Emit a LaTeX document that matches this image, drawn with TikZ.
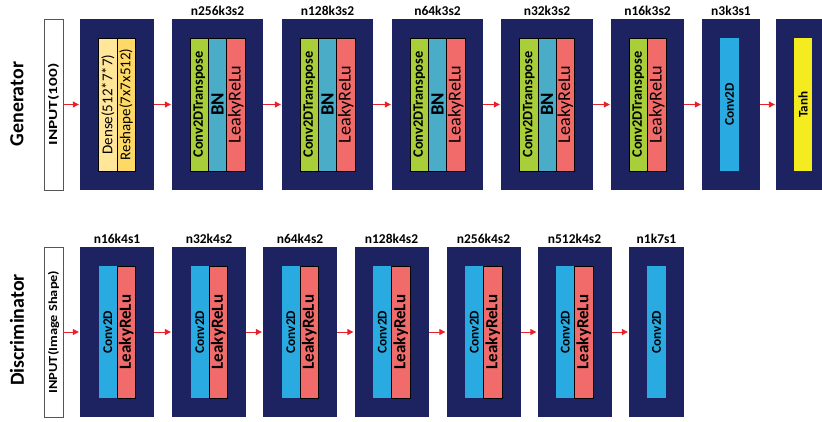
\documentclass[tikz,border=0pt]{standalone}
\usepackage{fontspec}
\setmainfont{Carlito}
\usetikzlibrary{arrows.meta,positioning}
\definecolor{GanNavy}{HTML}{1D2260}
\definecolor{GanGray}{HTML}{555555}
\definecolor{GanRed}{HTML}{E8202A}
\definecolor{GanDense}{HTML}{FFE699}
\definecolor{GanReshape}{HTML}{FFD966}
\definecolor{GanConvT}{HTML}{A8CF3A}
\definecolor{GanBN}{HTML}{4AACC6}
\definecolor{GanRelu}{HTML}{F26B6B}
\definecolor{GanConv}{HTML}{29ABE2}
\definecolor{GanTanh}{HTML}{F4EC1E}
\newcommand{\vlabel}[1]{\rotatebox{90}{#1}}
\tikzset{
    % Outer layer block
    blocknode/.style={
        fill=GanNavy,
        draw=none,
        minimum width=2.22cm,
        minimum height=5.13cm,
        inner sep=0pt,
        outer sep=0pt
    },
    % Input bar
    inputnode/.style={
        draw=GanGray,
        fill=white,
        line width=0.6pt,
        minimum width=0.57cm,
        minimum height=5.13cm,
        inner sep=0pt,
        outer sep=0pt,
        font=\bfseries\fontsize{10.5}{12}\selectfont
    },
    % Base strip inside a block
    stripnode/.style={
        draw=black,
        line width=0.4pt,
        minimum width=0.55cm,
        minimum height=3.99cm,
        inner sep=0pt,
        outer sep=0pt,
        text=black
    },
    densenode/.style={stripnode, fill=GanDense, font=\fontsize{12.8}{13}\selectfont},
    reshapenode/.style={stripnode, fill=GanReshape, font=\fontsize{12.8}{13}\selectfont},
    convtnode/.style={stripnode, fill=GanConvT, font=\bfseries\fontsize{12.3}{12}\selectfont},
    bnnode/.style={stripnode, fill=GanBN, font=\bfseries\fontsize{16}{16}\selectfont},
    relunode/.style={stripnode, fill=GanRelu, font=\fontsize{15.5}{16}\selectfont},
    convnode/.style={stripnode, draw=none, fill=GanConv, font=\bfseries\fontsize{11.4}{12}\selectfont},
    tanhnode/.style={stripnode, draw=none, fill=GanTanh, font=\bfseries\fontsize{11.2}{12}\selectfont},
    % Layer name above a block
    layerlabel/.style={
        inner sep=0pt,
        font=\bfseries\fontsize{11.5}{12}\selectfont
    },
    % Row title
    sidelabel/.style={
        rotate=90,
        inner sep=0pt,
        font=\bfseries\fontsize{17}{18}\selectfont
    },
    % Flow arrow
    flowarrow/.style={
        -{Triangle[length=5pt,width=5pt]},
        line width=0.8pt,
        draw=GanRed,
        shorten >=1pt
    }
}
\begin{document}
\begin{tikzpicture}[x=0.03cm, y=-0.03cm]
    \fill[white] (0,0) rectangle (822,421);
    \useasboundingbox (0,0) rectangle (822,421);

    % Generator
    \node[sidelabel] (gtitle) at (17,104) {Generator};
    \node[inputnode] (gin) at (53.5,104.5) {\vlabel{\scalebox{1.4}[1]{INPUT(100)}}};

    \node[blocknode] (g1) at (117,104.5) {};
    \node[densenode, anchor=east] (g1a) at (g1.center) {\vlabel{Dense(512*7*7)}};
    \node[reshapenode, right=0pt of g1a] (g1b) {\vlabel{Reshape(7x7x512)}};

    \node[blocknode, minimum width=2.73cm] (g2) at (217.5,104.5) {};
    \node[bnnode] (g2b) at (g2.center) {\vlabel{BN}};
    \node[convtnode, left=0pt of g2b] (g2a) {\vlabel{Conv2DTranspose}};
    \node[relunode, right=0pt of g2b] (g2c) {\vlabel{LeakyReLu}};
    \node[layerlabel, above=2.5pt of g2] {n256k3s2};

    \node[blocknode, minimum width=2.73cm] (g3) at (327.5,104.5) {};
    \node[bnnode] (g3b) at (g3.center) {\vlabel{BN}};
    \node[convtnode, left=0pt of g3b] (g3a) {\vlabel{Conv2DTranspose}};
    \node[relunode, right=0pt of g3b] (g3c) {\vlabel{LeakyReLu}};
    \node[layerlabel, above=2.5pt of g3] {n128k3s2};

    \node[blocknode, minimum width=2.73cm] (g4) at (437.5,104.5) {};
    \node[bnnode] (g4b) at (g4.center) {\vlabel{BN}};
    \node[convtnode, left=0pt of g4b] (g4a) {\vlabel{Conv2DTranspose}};
    \node[relunode, right=0pt of g4b] (g4c) {\vlabel{LeakyReLu}};
    \node[layerlabel, above=2.5pt of g4] {n64k3s2};

    \node[blocknode, minimum width=2.76cm] (g5) at (547,104.5) {};
    \node[bnnode] (g5b) at (g5.center) {\vlabel{BN}};
    \node[convtnode, left=0pt of g5b] (g5a) {\vlabel{Conv2DTranspose}};
    \node[relunode, right=0pt of g5b] (g5c) {\vlabel{LeakyReLu}};
    \node[layerlabel, above=2.5pt of g5] {n32k3s2};

    \node[blocknode, minimum width=2.19cm] (g6) at (647.5,104.5) {};
    \node[convtnode, anchor=east] (g6a) at (g6.center) {\vlabel{Conv2DTranspose}};
    \node[relunode, right=0pt of g6a] (g6b) {\vlabel{LeakyReLu}};
    \node[layerlabel, above=2.5pt of g6] {n16k3s2};

    \node[blocknode, minimum width=1.74cm] (g7) at (731,104.5) {};
    \node[convnode, minimum width=0.57cm] (g7a) at (729.5,104.5) {\vlabel{Conv2D}};
    \node[layerlabel, above=2.5pt of g7] {n3k3s1};

    \node[blocknode, minimum width=1.38cm] (g8) at (799,104.5) {};
    \node[tanhnode] (g8a) at (803,104.5) {\vlabel{Tanh}};

    \draw[flowarrow] (gin) -- (g1);
    \draw[flowarrow] (g1) -- (g2);
    \draw[flowarrow] (g2) -- (g3);
    \draw[flowarrow] (g3) -- (g4);
    \draw[flowarrow] (g4) -- (g5);
    \draw[flowarrow] (g5) -- (g6);
    \draw[flowarrow] (g6) -- (g7);
    \draw[flowarrow] (g7) -- (g8);

    % Discriminator
    \node[sidelabel] (dtitle) at (17,330) {Discriminator};
    \node[inputnode, minimum height=5.1cm] (din) at (53.5,332) {\vlabel{\scalebox{1.17}[1]{INPUT(Image Shape)}}};

    \foreach \name/\xc/\lbl in {d1/117/n16k4s1, d2/209/n32k4s2, d3/300/n64k4s2, d4/391.5/n128k4s2, d5/483.5/n256k4s2, d6/574.5/n512k4s2} {
        \node[blocknode, minimum height=5.1cm] (\name) at (\xc,332) {};
        \node[convnode, minimum height=3.96cm, anchor=east] (\name a) at (\name.center) {\vlabel{Conv2D}};
        \node[relunode, minimum height=3.96cm, right=0pt of \name a, font=\bfseries\fontsize{14.5}{15}\selectfont] (\name b) {\vlabel{LeakyReLu}};
        \node[layerlabel, above=2.5pt of \name] {\lbl};
    }

    \node[blocknode, minimum width=1.65cm, minimum height=5.1cm] (d7) at (656.5,332) {};
    \node[convnode, minimum height=3.96cm, minimum width=0.57cm] (d7a) at (d7.center) {\vlabel{Conv2D}};
    \node[layerlabel, above=2.5pt of d7] {n1k7s1};

    \draw[flowarrow] (din) -- (d1);
    \draw[flowarrow] (d1) -- (d2);
    \draw[flowarrow] (d2) -- (d3);
    \draw[flowarrow] (d3) -- (d4);
    \draw[flowarrow] (d4) -- (d5);
    \draw[flowarrow] (d5) -- (d6);
    \draw[flowarrow] (d6) -- (d7);
\end{tikzpicture}
\end{document}
